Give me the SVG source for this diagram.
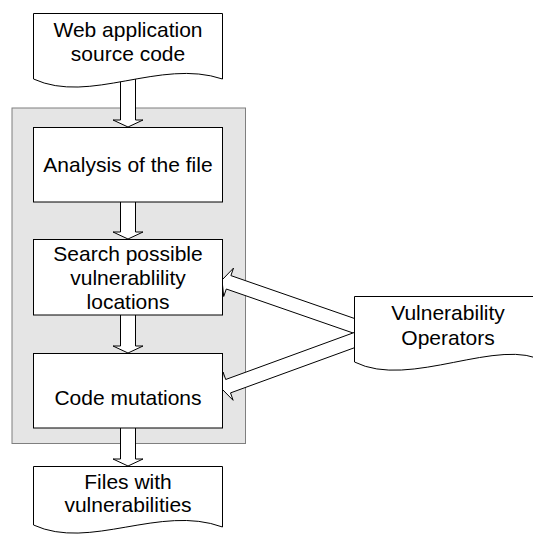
<svg xmlns="http://www.w3.org/2000/svg" width="533" height="536" viewBox="0 0 533 536">
<style>
.box{fill:#ffffff;stroke:#000000;stroke-width:1}
.arrow{fill:#ffffff;stroke:#000000;stroke-width:1;stroke-linejoin:miter}
.t{font-family:"Liberation Sans",Arial,sans-serif;font-size:21px;fill:#000000;text-anchor:middle}
</style>
<rect width="533" height="536" fill="#ffffff"/>
<g id="container">
<rect x="12" y="108" width="233.5" height="335.5" fill="#e5e5e5" stroke="#7f7f7f" stroke-width="1"/>
</g>
<g id="connectors">
<path class="arrow" d="M120.5,70 V120 H113 L128,127 L143,120 H135.5 V70 Z"/>
<path class="arrow" d="M120.5,195 V232 H113 L128,239 L143,232 H135.5 V195 Z"/>
<path class="arrow" d="M120.5,310 V346 H113 L128,353 L143,346 H135.5 V310 Z"/>
<path class="arrow" d="M120.5,420 V459 H113 L128,466 L143,459 H135.5 V420 Z"/>
<path class="arrow" d="M360,320.4 L230.9,275.6 L233.5,268.1 L222,280 L223.7,296.5 L226.3,289 L360,335.4 Z"/>
<path class="arrow" d="M360,330.4 L225.7,379.5 L223.1,372.1 L221.5,388.5 L233.1,400.3 L230.5,392.9 L360,345.7 Z"/>
</g>
<g id="source">
<path class="box" d="M33.5,13.5 H222.5 V79 C160,58 90,105 33.5,79 Z"/>
<text class="t" x="128" y="37">Web application</text>
<text class="t" x="128" y="61">source code</text>
</g>
<g id="analysis">
<rect class="box" x="33.5" y="127.5" width="189" height="74.5"/>
<text class="t" x="128" y="172">Analysis of the file</text>
</g>
<g id="search">
<rect class="box" x="33.5" y="239.5" width="189" height="75.5"/>
<text class="t" x="128" y="260.5">Search possible</text>
<text class="t" x="128" y="284.5">vulnerablility</text>
<text class="t" x="128" y="308.5">locations</text>
</g>
<g id="mutations">
<rect class="box" x="33.5" y="353.5" width="189" height="74.5"/>
<text class="t" x="128" y="405">Code mutations</text>
</g>
<g id="files">
<path class="box" d="M33.5,466.5 H222.5 V527 C160,504 90,551 33.5,525 Z"/>
<text class="t" x="128" y="488.5">Files with</text>
<text class="t" x="128" y="511.5">vulnerabilities</text>
</g>
<g id="operators">
<path class="box" d="M354.5,296.5 H545 V362 C500,335 410,390 354.5,362 Z"/>
<text class="t" x="448" y="320">Vulnerability</text>
<text class="t" x="448" y="344.5">Operators</text>
</g>
</svg>
